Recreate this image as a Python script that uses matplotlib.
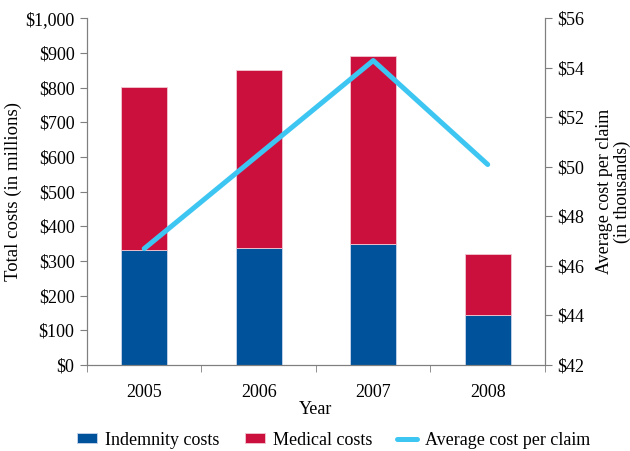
import matplotlib
matplotlib.use("Agg")
import matplotlib.pyplot as plt
from matplotlib.ticker import FuncFormatter, FixedLocator

years = ["2005", "2006", "2007", "2008"]
indemnity = [331, 338, 348, 143]
medical_total = [803, 851, 892, 319]
medical = [t - i for t, i in zip(medical_total, indemnity)]
avg_cost = [46.7, 50.5, 54.3, 50.1]

plt.rcParams['font.family'] = ['Liberation Serif', 'DejaVu Serif']
blue = '#00539B'
red = '#CC103E'
cyan = '#3EC6F2'
spine_c = '#7f7f7f'
fs = 13

fig = plt.figure(figsize=(6.30, 4.51), dpi=100)
ax = fig.add_axes([0.138, 0.1907, 0.727, 0.7683])
x = list(range(len(years)))
ax.bar(x, indemnity, width=0.4, color=blue, edgecolor='#c8d6ea', linewidth=0.6, label='Indemnity costs', zorder=2)
ax.bar(x, medical, width=0.4, bottom=indemnity, color=red, edgecolor='#f0c8d2', linewidth=0.6, label='Medical costs', zorder=2)
ax.set_xlim(-0.5, 3.5)
ax.set_ylim(0, 1000)
ax.set_yticks(range(0, 1001, 100))
ax.yaxis.set_major_formatter(FuncFormatter(lambda v, p: "${:,.0f}".format(v)))
ax.set_xticks(x)
ax.set_xticklabels(years, fontsize=fs)
ax.xaxis.set_minor_locator(FixedLocator([-0.5, 0.5, 1.5, 2.5, 3.5]))
ax.tick_params(axis='x', which='major', length=0, pad=14)
ax.tick_params(axis='x', which='minor', length=5, color=spine_c, direction='out')
ax.tick_params(axis='y', length=5, color=spine_c, labelsize=fs, pad=4)
ax.set_xlabel('Year', fontsize=fs, labelpad=0)
ax.set_ylabel('Total costs (in millions)', fontsize=13.5, labelpad=2)
ax.spines['top'].set_visible(False)
for s in ['left', 'bottom', 'right']:
    ax.spines[s].set_color(spine_c)

ax2 = ax.twinx()
ax2.plot(x, avg_cost, color=cyan, linewidth=3.6, solid_capstyle='round', label='Average cost per claim', zorder=3)
ax2.set_ylim(42, 56)
ax2.set_yticks(range(42, 57, 2))
ax2.yaxis.set_major_formatter(FuncFormatter(lambda v, p: "${:.0f}".format(v)))
ax2.tick_params(axis='y', length=5, color=spine_c, labelsize=fs, pad=4)
ax2.set_ylabel('Average cost per claim\n(in thousands)', fontsize=fs, labelpad=8, linespacing=1.05)
ax2.spines['top'].set_visible(False)
for s in ['left', 'bottom', 'right']:
    ax2.spines[s].set_color(spine_c)

h1, l1 = ax.get_legend_handles_labels()
h2, l2 = ax2.get_legend_handles_labels()
fig.legend(h1 + h2, l1 + l2, loc='center', bbox_to_anchor=(0.53, 0.024), ncol=3,
           frameon=False, fontsize=fs, handlelength=1.1, handleheight=0.45,
           columnspacing=1.4, handletextpad=0.45)

fig.savefig('out.png', dpi=100)
